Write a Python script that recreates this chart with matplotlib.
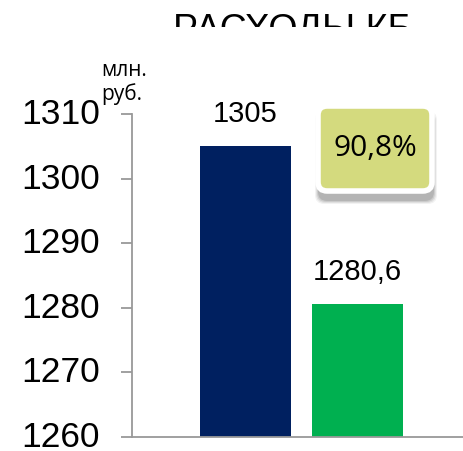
import matplotlib
matplotlib.use("Agg")
import matplotlib.pyplot as plt
from matplotlib.patches import FancyBboxPatch, Rectangle
from matplotlib.transforms import ScaledTranslation

# data
categories = ["2012", "2013"]
values = [1305, 1280.6]
value_labels = ["1305", "1280,6"]
bar_colors = ["#002060", "#00B050"]
y_ticks = [1260, 1270, 1280, 1290, 1300, 1310]
ratio_label = "90,8%"
title = "РАСХОДЫ КБ"
unit_top = "млн."
unit_bottom = "руб."

W, H = 463, 451
fig = plt.figure(figsize=(W / 100, H / 100), dpi=100)
fig.patch.set_facecolor("white")

# axes placed by pixel box: x 132..463, y 114..437
ax = fig.add_axes([132 / W, (H - 437) / H, (463 - 132) / W, (437 - 114) / H])
ax.set_facecolor("none")

x = list(range(len(categories)))
bars = ax.bar(x, values, width=0.8125, color=bar_colors, zorder=2)
ax.set_xlim(-1.013, 1.942)
ax.set_ylim(1260, 1310)
ax.set_yticks(y_ticks)
ax.set_yticklabels([str(t) for t in y_ticks], fontsize=25.5,
                   family="Liberation Sans")
ax.set_xticks([])

for side in ("top", "right"):
    ax.spines[side].set_visible(False)
for side in ("left", "bottom"):
    ax.spines[side].set_color("#999999")
    ax.spines[side].set_linewidth(1.3)
ax.tick_params(axis="y", direction="out", length=8, width=1.3,
               color="#999999", pad=15)

# labels sit a little above their ticks in the original
shift = ScaledTranslation(0, 3 / 100, fig.dpi_scale_trans)
for lab in ax.get_yticklabels():
    lab.set_transform(lab.get_transform() + shift)

for rect, lab in zip(bars, value_labels):
    ax.annotate(lab, (rect.get_x() + rect.get_width() / 2, rect.get_height()),
                xytext=(0, 13), textcoords="offset points",
                ha="center", va="bottom", fontsize=21,
                family="Liberation Sans")

# ratio box (figure pixel coords, y from top)
def fx(px):
    return px / W

def fy(py):
    return (H - py) / H

bx0, bx1, by0, by1 = 318, 432, 106, 191
for i, a in enumerate([0.05, 0.07, 0.09, 0.11]):
    grow = 4 - i
    sh = FancyBboxPatch((fx(bx0 + 1 - grow), fy(by1 + 9 + grow)),
                        fx(bx1 - bx0 + 2 * grow), (by1 - by0 + 2 * grow) / H,
                        boxstyle="round,pad=0,rounding_size=0.02",
                        transform=fig.transFigure, facecolor="black",
                        edgecolor="none", alpha=a, zorder=5)
    fig.patches.append(sh)
box = FancyBboxPatch((fx(bx0), fy(by1)), fx(bx1 - bx0), (by1 - by0) / H,
                     boxstyle="round,pad=0,rounding_size=0.02",
                     transform=fig.transFigure, facecolor="#D4DA7E",
                     edgecolor="white", linewidth=4, zorder=6)
fig.patches.append(box)
fig.text(fx(375), fy(148), ratio_label, ha="center", va="center",
         fontsize=21.5, family="Open Sans", zorder=7)

# unit label
fig.text(fx(124), fy(70), unit_top, ha="center", va="center",
         fontsize=15, family="Open Sans")
fig.text(fx(122), fy(94), unit_bottom, ha="center", va="center",
         fontsize=15, family="Open Sans")

# title, cut off in the original
fig.text(fx(293), fy(13), title, ha="center", va="top",
         fontsize=27, family="Liberation Sans", zorder=3)
fig.patches.append(Rectangle((0, fy(55)), 1, (55 - 27) / H,
                             transform=fig.transFigure, facecolor="white",
                             edgecolor="none", zorder=4))

fig.savefig("out.png", dpi=100)
